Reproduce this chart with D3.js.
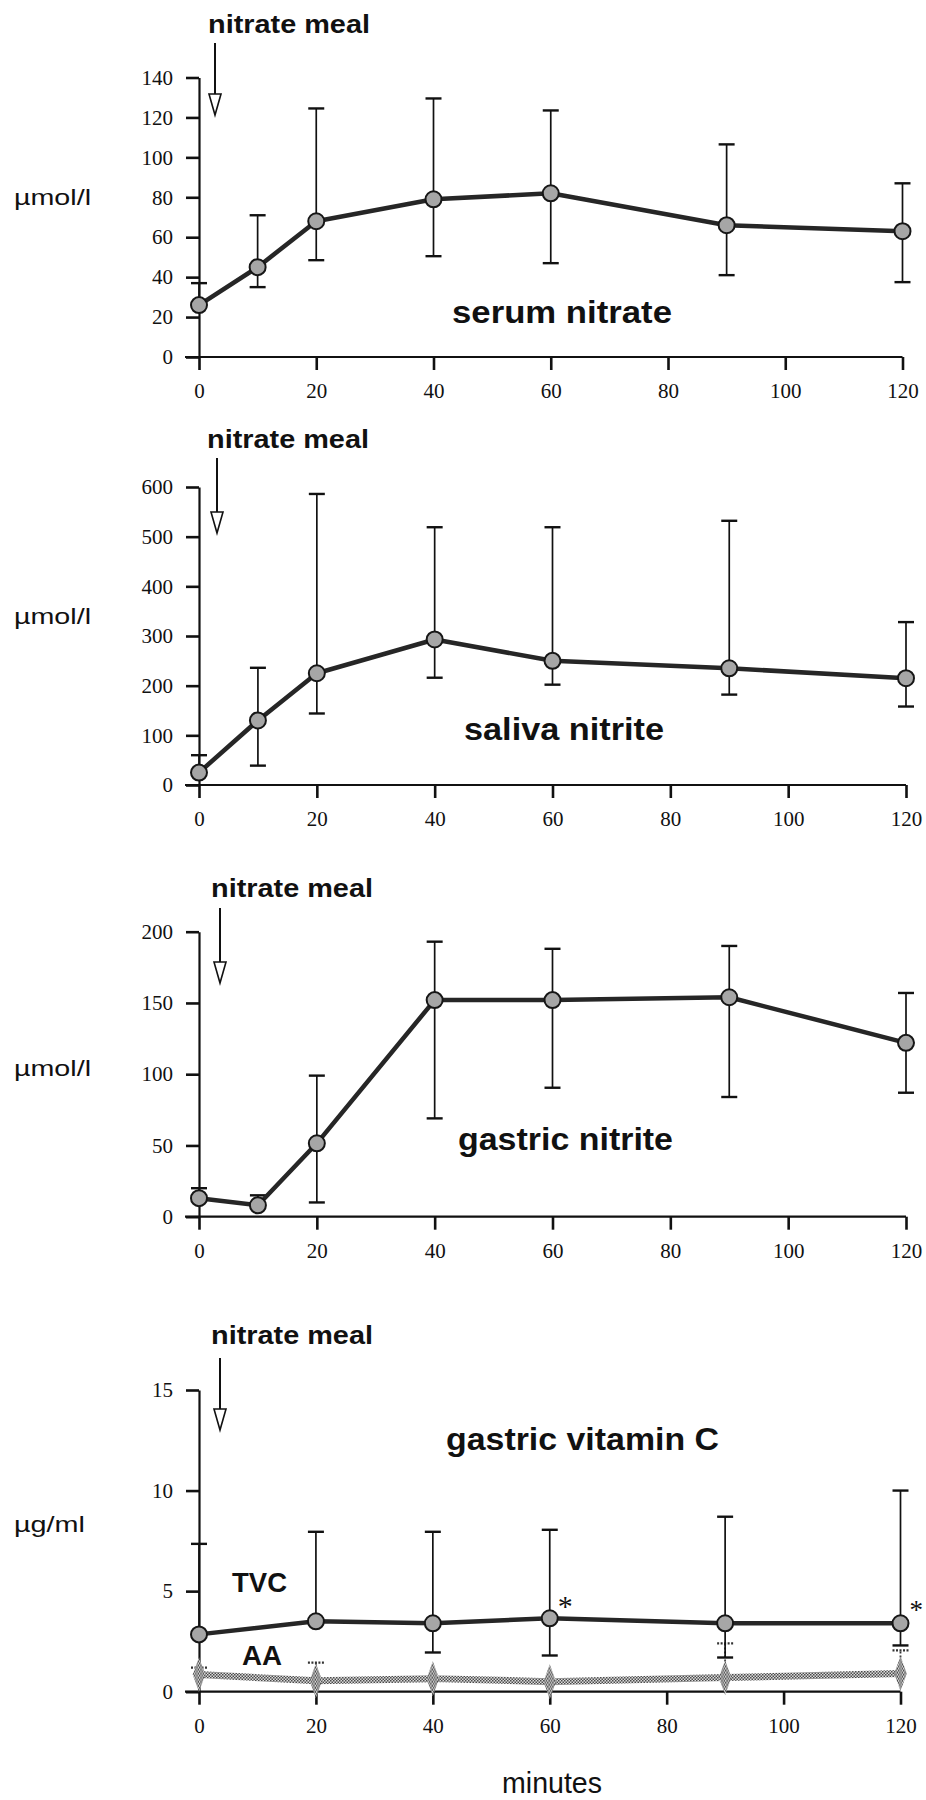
<!DOCTYPE html>
<html>
<head>
<meta charset="utf-8">
<script src="https://cdn.jsdelivr.net/npm/d3@7"></script>
<style>
  body { margin: 0; background: #fff; }
</style>
</head>
<body>
<svg id="chart" width="926" height="1800"></svg>
<script>
// time points (minutes after the meal)
const minutes = [0, 10, 20, 40, 60, 90, 120];
const vitMinutes = [0, 20, 40, 60, 90, 120];
const xTicks = [0, 20, 40, 60, 80, 100, 120];

// serum nitrate, µmol/l
const serumNitrate = [26, 45, 68, 79, 82, 66, 63];
const serumHigh = [37, 71, 124.5, 129.5, 123.5, 106.5, 87];
const serumLow = [null, 35, 48.5, 50.5, 47, 41, 37.5];
const serumTicks = [0, 20, 40, 60, 80, 100, 120, 140];

// saliva nitrite, µmol/l
const salivaNitrite = [25, 130, 225, 293, 250, 235, 215];
const salivaHigh = [60, 236, 586, 519, 519, 532, 328];
const salivaLow = [null, 39, 144, 216, 202, 182, 158];
const salivaTicks = [0, 100, 200, 300, 400, 500, 600];

// gastric nitrite, µmol/l
const gastricNitrite = [13, 8, 51.5, 152, 152, 154, 122];
const gastricHigh = [20, 15, 99, 193, 188, 190, 157];
const gastricLow = [null, null, 10, 69, 90.5, 84, 87];
const gastricTicks = [0, 50, 100, 150, 200];

// gastric vitamin C, µg/ml
const tvc = [2.85, 3.5, 3.4, 3.65, 3.4, 3.4];
const tvcHigh = [7.35, 7.95, 7.95, 8.05, 8.7, 10];
const tvcLow = [null, null, 1.95, 1.8, 1.7, 2.3];
const aa = [0.85, 0.55, 0.65, 0.5, 0.7, 0.9];
const aaHigh = [1.2, 1.45, null, null, 2.4, 2.05];
const vitTicks = [0, 5, 10, 15];

const svg = d3.select("#chart");
svg.append("rect").attr("width", 926).attr("height", 1800).attr("fill", "#fff");

// speckled grey fill used for the AA series
const defs = svg.append("defs");
const pat = defs.append("pattern")
    .attr("id", "speckle")
    .attr("patternUnits", "userSpaceOnUse")
    .attr("width", 3).attr("height", 3);
pat.append("rect").attr("width", 3).attr("height", 3).attr("fill", "#dcdcdc");
pat.append("rect").attr("width", 1.5).attr("height", 1.5).attr("fill", "#4a4a4a");
pat.append("rect").attr("x", 1.5).attr("y", 1.5).attr("width", 1.5).attr("height", 1.5).attr("fill", "#4a4a4a");

const serif = "'Liberation Serif', 'Times New Roman', serif";
const sans = "'Liberation Sans', Arial, sans-serif";

// draw a text stretched to a measured width
function label(txt, x, y, size, weight, width, family) {
    const t = svg.append("text")
        .attr("x", x).attr("y", y)
        .attr("font-family", family || sans)
        .attr("font-size", size)
        .attr("font-weight", weight)
        .attr("fill", "#111")
        .text(txt);
    if (width) t.attr("textLength", width).attr("lengthAdjust", "spacingAndGlyphs");
    return t;
}

function arrow(x, top, tip) {
    svg.append("line")
        .attr("x1", x).attr("x2", x)
        .attr("y1", top).attr("y2", tip - 18)
        .attr("stroke", "#111").attr("stroke-width", 2);
    svg.append("path")
        .attr("d", `M${x - 6},${tip - 21}L${x + 6},${tip - 21}L${x},${tip}Z`)
        .attr("fill", "#fff").attr("stroke", "#111").attr("stroke-width", 1.6);
}

// layout of the four panels
const panels = [
    { xs: minutes, ys: serumNitrate, hi: serumHigh, lo: serumLow, ticks: serumTicks,
      top: 77.5, bottom: 357, right: 902.5,
      title: "serum nitrate", titleX: 452, titleY: 323, titleW: 220,
      unit: "µmol/l", unitY: 205, unitW: 77,
      mealX: 208, mealY: 33, arrowX: 215, arrowTop: 43, arrowTip: 115 },
    { xs: minutes, ys: salivaNitrite, hi: salivaHigh, lo: salivaLow, ticks: salivaTicks,
      top: 487, bottom: 785, right: 906,
      title: "saliva nitrite", titleX: 464, titleY: 740, titleW: 200,
      unit: "µmol/l", unitY: 624, unitW: 77,
      mealX: 207, mealY: 448, arrowX: 217, arrowTop: 458, arrowTip: 533 },
    { xs: minutes, ys: gastricNitrite, hi: gastricHigh, lo: gastricLow, ticks: gastricTicks,
      top: 931.7, bottom: 1216.7, right: 906,
      title: "gastric nitrite", titleX: 458, titleY: 1150, titleW: 215,
      unit: "µmol/l", unitY: 1076, unitW: 77,
      mealX: 211, mealY: 897, arrowX: 220, arrowTop: 908, arrowTip: 983 },
    { xs: vitMinutes, ys: tvc, hi: tvcHigh, lo: tvcLow, ticks: vitTicks,
      top: 1390, bottom: 1691.7, right: 900.5,
      title: "gastric vitamin C", titleX: 446, titleY: 1450, titleW: 273,
      unit: "µg/ml", unitY: 1532, unitW: 71,
      mealX: 211, mealY: 1344, arrowX: 220, arrowTop: 1358, arrowTip: 1430 }
];

const left = 199;

panels.forEach(function(p, pi) {
    const x = d3.scaleLinear().domain([0, 120]).range([left, p.right]);
    const y = d3.scaleLinear().domain([0, d3.max(p.ticks)]).range([p.bottom, p.top]);

    // x axis
    const gx = svg.append("g")
        .attr("transform", `translate(0,${p.bottom})`)
        .call(d3.axisBottom(x).tickValues(xTicks).tickSize(13).tickSizeOuter(0).tickPadding(13));
    gx.select(".domain").attr("d", `M${left - 14},0H${p.right}`);

    // y axis
    const gy = svg.append("g")
        .attr("transform", `translate(${left},0)`)
        .call(d3.axisLeft(y).tickValues(p.ticks).tickSize(13).tickSizeOuter(0).tickPadding(13));

    [gx, gy].forEach(function(g) {
        g.attr("font-family", serif);
        g.select(".domain").attr("stroke", "#111").attr("stroke-width", 2.2);
        g.selectAll(".tick line").attr("stroke", "#111").attr("stroke-width", 2.6);
        g.selectAll(".tick text")
            .attr("font-family", serif)
            .attr("font-size", 21)
            .attr("fill", "#111");
    });

    const pts = p.xs.map(function(m, i) {
        return { m: m, v: p.ys[i], hi: p.hi[i], lo: p.lo[i] };
    });

    // AA series sits under the TVC series in the last panel
    if (pi === 3) {
        const aaPts = vitMinutes.map(function(m, i) { return { m: m, v: aa[i], hi: aaHigh[i] }; });
        const aaBars = svg.append("g").selectAll("g")
            .data(aaPts.filter(function(d) { return d.hi != null; }))
            .enter().append("g");
        aaBars.append("line")
            .attr("x1", function(d) { return x(d.m); })
            .attr("x2", function(d) { return x(d.m); })
            .attr("y1", function(d) { return y(d.v); })
            .attr("y2", function(d) { return y(d.hi); })
            .attr("stroke", "#333").attr("stroke-width", 1.8)
            .attr("stroke-dasharray", "2,2");
        aaBars.append("line")
            .attr("x1", function(d) { return x(d.m) - 8; })
            .attr("x2", function(d) { return x(d.m) + 8; })
            .attr("y1", function(d) { return y(d.hi); })
            .attr("y2", function(d) { return y(d.hi); })
            .attr("stroke", "#333").attr("stroke-width", 2.2)
            .attr("stroke-dasharray", "2,1.5");

        svg.append("path")
            .datum(aaPts)
            .attr("fill", "none")
            .attr("stroke", "url(#speckle)")
            .attr("stroke-width", 7)
            .attr("d", d3.line().x(function(d) { return x(d.m); }).y(function(d) { return y(d.v); }));

        svg.append("g").selectAll("path")
            .data(aaPts)
            .enter().append("path")
            .attr("transform", function(d) { return `translate(${x(d.m)},${y(d.v)}) scale(0.85,1.35)`; })
            .attr("d", d3.symbol(d3.symbolDiamond, 190))
            .attr("fill", "url(#speckle)");
    }

    // error bars
    const bars = svg.append("g").selectAll("g").data(pts).enter().append("g");
    ["hi", "lo"].forEach(function(k) {
        const b = bars.filter(function(d) { return d[k] != null; });
        b.append("line")
            .attr("x1", function(d) { return x(d.m); })
            .attr("x2", function(d) { return x(d.m); })
            .attr("y1", function(d) { return y(d.v); })
            .attr("y2", function(d) { return y(d[k]); })
            .attr("stroke", "#111").attr("stroke-width", 1.7);
        b.append("line")
            .attr("x1", function(d) { return x(d.m) - 8; })
            .attr("x2", function(d) { return x(d.m) + 8; })
            .attr("y1", function(d) { return y(d[k]); })
            .attr("y2", function(d) { return y(d[k]); })
            .attr("stroke", "#111").attr("stroke-width", 2.4);
    });

    // mean line
    svg.append("path")
        .datum(pts)
        .attr("fill", "none")
        .attr("stroke", "#262626")
        .attr("stroke-width", 4.5)
        .attr("stroke-linejoin", "round")
        .attr("d", d3.line().x(function(d) { return x(d.m); }).y(function(d) { return y(d.v); }));

    // markers
    svg.append("g").selectAll("circle")
        .data(pts)
        .enter().append("circle")
        .attr("cx", function(d) { return x(d.m); })
        .attr("cy", function(d) { return y(d.v); })
        .attr("r", 8)
        .attr("fill", "#a6a6a6")
        .attr("stroke", "#161616")
        .attr("stroke-width", 2);

    // annotations
    label("nitrate meal", p.mealX, p.mealY, 25, "bold", 162);
    arrow(p.arrowX, p.arrowTop, p.arrowTip);
    label(p.unit, 14, p.unitY, 22, "normal", p.unitW);
    label(p.title, p.titleX, p.titleY, 32, "bold", p.titleW);

    if (pi === 3) {
        label("TVC", 232, 1592, 28, "bold", 55);
        label("AA", 242, 1665, 28, "bold", 40);
        // significance marks beside the 60 and 120 minute points
        label("*", x(60) + 8, 1616, 30, "normal", null, serif);
        label("*", x(120) + 9, 1619, 27, "normal", null, serif);
    }
});

label("minutes", 502, 1793, 29, "normal", 100);
</script>
</body>
</html>
